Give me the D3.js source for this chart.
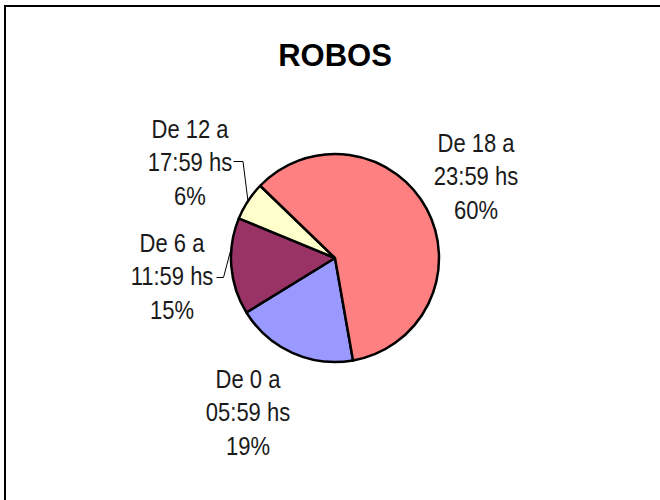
<!DOCTYPE html>
<html>
<head>
<meta charset="utf-8">
<script src="https://cdn.jsdelivr.net/npm/d3@7"></script>
<style>
  html, body { margin: 0; padding: 0; background: #fff; }
  svg { display: block; }
</style>
</head>
<body>
<svg id="chart" width="660" height="500"></svg>
<script>
// Time-of-day buckets and their share of robberies
const categories = ["De 0 a 05:59 hs", "De 6 a 11:59 hs", "De 12 a 17:59 hs", "De 18 a 23:59 hs"];
const labelLines = [["De 0 a", "05:59 hs"], ["De 6 a", "11:59 hs"], ["De 12 a", "17:59 hs"], ["De 18 a", "23:59 hs"]];
const values = [19, 15, 6, 60];
const colors = ["#9999FF", "#993366", "#FFFFCC", "#FF8080"];
const title = "ROBOS";

const svg = d3.select("#chart");
const cx = 335, cy = 258, r = 104;
const font = "'Liberation Sans', Arial, sans-serif";

// Frame of the chart area
svg.append("rect")
  .attr("x", 5).attr("y", 6).attr("width", 720).attr("height", 600)
  .attr("fill", "none").attr("stroke", "#000").attr("stroke-width", 2);

svg.append("text")
  .attr("x", 335).attr("y", 66)
  .attr("text-anchor", "middle")
  .attr("font-family", font).attr("font-weight", "bold").attr("font-size", 31)
  .text(title);

const startDeg = 170;
const pie = d3.pie().sort(null).value(d => d)
  .startAngle(startDeg * Math.PI / 180)
  .endAngle((startDeg + 360) * Math.PI / 180);
const arcs = pie(values);
const arc = d3.arc().innerRadius(0).outerRadius(r);

const g = svg.append("g").attr("transform", `translate(${cx},${cy})`);
g.selectAll("path").data(arcs).join("path")
  .attr("d", arc)
  .attr("fill", (d, i) => colors[i])
  .attr("stroke", "#000").attr("stroke-width", 2.5)
  .attr("stroke-linejoin", "round");

// Label placement per slice (center x, first baseline y)
const labelPos = [
  { x: 248, y: 388 },
  { x: 172, y: 252 },
  { x: 190, y: 138 },
  { x: 476, y: 152 }
];
const lineGap = 33.5;
const total = d3.sum(values);

arcs.forEach((a, i) => {
  const lines = labelLines[i].concat([Math.round(values[i] / total * 100) + "%"]);
  // Slightly condensed lettering
  const t = svg.append("text")
    .attr("transform", `translate(${labelPos[i].x},${labelPos[i].y}) scale(0.88,1)`)
    .attr("text-anchor", "middle")
    .attr("font-family", font).attr("font-size", 25)
    .attr("fill", "#1a1a1a");
  lines.forEach((ln, k) => {
    t.append("tspan").attr("x", 0).attr("y", k * lineGap).text(ln);
  });
});

// Leader lines for the two small slices on the left
function edgePoint(a, frac) {
  const ang = a.startAngle + (a.endAngle - a.startAngle) * frac;
  return [cx + r * Math.sin(ang), cy - r * Math.cos(ang)];
}
const leaders = [
  { i: 2, frac: 0.5, from: [233.5, 161.5], elbow: [243, 161.5] },
  { i: 1, frac: 0.7, from: [216.5, 277.5], elbow: [223.5, 277.5] }
];
leaders.forEach(l => {
  const p = edgePoint(arcs[l.i], l.frac);
  svg.append("polyline")
    .attr("points", [l.from, l.elbow, p].map(q => q.join(",")).join(" "))
    .attr("fill", "none").attr("stroke", "#000").attr("stroke-width", 1);
});
</script>
</body>
</html>
